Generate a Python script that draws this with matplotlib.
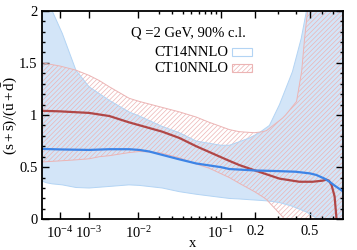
import numpy as np
import matplotlib
matplotlib.use('Agg')
import matplotlib.pyplot as plt
from matplotlib.patches import Rectangle

plt.rcParams['font.family'] = 'Liberation Serif'
plt.rcParams['mathtext.fontset'] = 'custom'
plt.rcParams['mathtext.rm'] = 'Liberation Serif'
plt.rcParams['mathtext.it'] = 'Liberation Serif:italic'
plt.rcParams['hatch.linewidth'] = 0.5

# CT14NNLO central and 90% c.l. band
ct14_x = [1e-5, 1e-4, 1e-3, 3e-3, 7e-3, 0.0104, 0.0147, 0.0203, 0.0364, 0.0566,
          0.1, 0.12, 0.2, 0.3, 0.4, 0.5, 0.55, 0.62, 0.666, 0.72, 0.8]
ct14_c = [0.675, 0.67, 0.665, 0.672, 0.672, 0.665, 0.65, 0.625, 0.575, 0.535,
          0.50, 0.482, 0.468, 0.462, 0.456, 0.44, 0.425, 0.39, 0.36, 0.32, 0.27]

ct14_bx = [1e-5, 2e-5, 4.2e-5, 1.3e-4, 4.1e-4, 1e-3, 3e-3, 7e-3, 0.0104, 0.0223,
           0.0364, 0.0566, 0.1, 0.12, 0.147, 0.179, 0.215, 0.258, 0.307, 0.38,
           0.437, 0.474, 0.552, 0.6, 0.8]
ct14_hi = [3.0, 2.5, 2.0, 1.78, 1.43, 1.27, 1.14, 1.03, 0.99, 0.89,
           0.83, 0.75, 0.71, 0.71, 0.744, 0.78, 0.83, 0.9, 1.1, 1.415,
           1.735, 2.0, 2.6, 3.0, 3.0]
ct14_lo = [0.365, 0.35, 0.34, 0.33, 0.305, 0.30, 0.315, 0.33, 0.325, 0.30,
           0.265, 0.24, 0.21, 0.20, 0.195, 0.188, 0.182, 0.175, 0.16, 0.125,
           0.09, 0.07, 0.01, -0.05, -0.3]

# CT10NNLO central and 90% c.l. band
ct10_x = [1e-5, 1e-4, 1e-3, 3e-3, 7e-3, 0.0223, 0.0364, 0.0566, 0.12, 0.147,
          0.197, 0.307, 0.425, 0.52, 0.6, 0.638, 0.66, 0.685, 0.715, 0.735, 0.75]
ct10_c = [1.04, 1.035, 1.02, 0.99, 0.93, 0.84, 0.78, 0.70, 0.56, 0.52,
          0.47, 0.39, 0.36, 0.36, 0.37, 0.38, 0.37, 0.33, 0.22, 0.0, -0.3]

ct10_bx = [1e-5, 1e-4, 4.1e-4, 1e-3, 1.8e-3, 3e-3, 7.1e-3, 0.0104, 0.0203, 0.0364,
           0.0566, 0.077, 0.12, 0.147, 0.197, 0.228, 0.245, 0.323, 0.34, 0.406,
           0.44, 0.46, 0.482, 0.55, 0.8]
ct10_hi = [1.50, 1.47, 1.43, 1.38, 1.33, 1.27, 1.16, 1.13, 1.08, 1.03,
           0.98, 0.93, 0.86, 0.84, 0.83, 0.84, 0.85, 0.97, 1.0, 1.13,
           1.42, 1.73, 2.0, 2.6, 3.0]
ct10_lo = [0.55, 0.56, 0.57, 0.58, 0.60, 0.61, 0.64, 0.65, 0.64, 0.59,
           0.53, 0.49, 0.40, 0.345, 0.265, 0.217, 0.19, 0.025, -0.02, -0.1,
           -0.2, -0.3, -0.3, -0.3, -0.3]

xticks = [1e-4, 1e-3, 1e-2, 1e-1, 0.2, 0.5]
xticklabels = ['$10^{-4}$', '$10^{-3}$', '$10^{-2}$', '$10^{-1}$', '0.2', '0.5']
xminor = [0.02, 0.03, 0.04, 0.05, 0.06, 0.07, 0.08, 0.09, 0.3, 0.4, 0.6, 0.7]

p = 0.225
fwd = lambda x: np.abs(x) ** p
inv = lambda y: np.abs(y) ** (1.0 / p)

fig = plt.figure(figsize=(3.57, 2.5), dpi=100)
ax = fig.add_axes([0.1185, 0.1228, 0.8415, 0.8344])
ax.set_xscale('function', functions=(fwd, inv))

blue_fill = '#d3e5f8'
blue_edge = '#b3d4f4'
pink = '#ecb4b4'
hatch = '///////'

ax.fill_between(ct14_bx, ct14_lo, ct14_hi, facecolor=blue_fill, edgecolor='none', lw=0)
ax.fill_between(ct10_bx, ct10_lo, ct10_hi, facecolor='none', edgecolor=pink, hatch=hatch, lw=0)
ax.plot(ct14_bx, ct14_hi, color=blue_edge, lw=0.7)
ax.plot(ct14_bx, ct14_lo, color=blue_edge, lw=0.7)
ax.plot(ct10_bx, ct10_hi, color=pink, lw=0.7)
ax.plot(ct10_bx, ct10_lo, color=pink, lw=0.7)
ax.plot(ct10_x, ct10_c, color='#b04747', lw=1.6)
ax.plot(ct14_x, ct14_c, color='#3d84e6', lw=1.6)

ax.set_xlim(1e-5, 0.8)
ax.set_ylim(0, 2)
ax.set_xticks(xticks)
ax.set_xticklabels(xticklabels)
ax.set_xticks(xminor, minor=True)
ax.set_yticks([0, 0.5, 1, 1.5, 2])
ax.set_yticklabels(['0', '0.5', '1', '1.5', '2'])
ax.set_yticks(np.arange(0, 2.01, 0.1), minor=True)
ax.tick_params(which='both', direction='in', top=True, right=True, labelsize=10.5, width=1)
ax.tick_params(which='major', length=5)
ax.tick_params(which='minor', length=2.5)
ax.tick_params(axis='x', pad=4)
for s in ax.spines.values():
    s.set_linewidth(1.3)

ax.set_xlabel('x', fontsize=10.5)
ax.xaxis.set_label_coords(0.5, -0.085)
ax.set_ylabel(r'$\mathrm{(s+\bar{s})/(\bar{u}+\bar{d})}$', fontsize=11)
ax.yaxis.set_label_coords(-0.075, 0.5)

# legend
ax.text(0.295, 0.893, 'Q =2 GeV, 90% c.l.', transform=ax.transAxes, fontsize=10.5, ha='left', va='center')
ax.text(0.6205, 0.802, 'CT14NNLO', transform=ax.transAxes, fontsize=10.5, ha='right', va='center')
ax.text(0.6205, 0.725, 'CT10NNLO', transform=ax.transAxes, fontsize=10.5, ha='right', va='center')
ax.add_patch(Rectangle((0.6315, 0.783), 0.0665, 0.038, transform=ax.transAxes,
                       facecolor='white', edgecolor=blue_edge, lw=0.8))
ax.add_patch(Rectangle((0.6315, 0.706), 0.0665, 0.038, transform=ax.transAxes,
                       facecolor='white', edgecolor=pink, hatch=hatch, lw=0.8))

fig.savefig('out.png', dpi=100)
